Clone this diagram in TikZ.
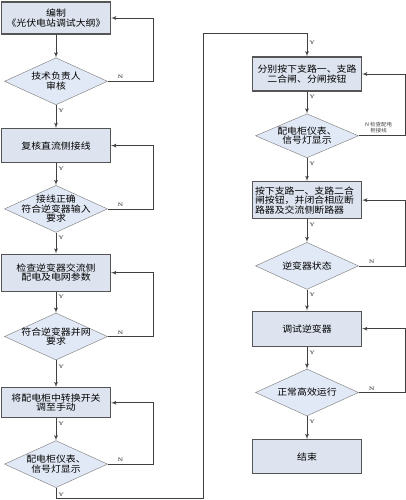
\documentclass[tikz,border=0pt]{standalone}
\usepackage{fontspec}
\newfontfamily\cjk[FakeStretch=1.1]{Noto Sans CJK SC}
\usepackage{tikz}
\usetikzlibrary{shapes,arrows,calc,positioning}
\definecolor{boxfill}{RGB}{221,228,240}
\definecolor{diafill}{RGB}{226,233,246}
\definecolor{edge}{RGB}{85,85,85}

\begin{document}
\begin{tikzpicture}[x=1pt, y=-1pt, node distance=22pt, font=\cjk\fontsize{9}{9.5}\selectfont]
        \tikzstyle{block} = [rectangle, draw=edge, line width=1.2pt, fill=boxfill,
        text width=104pt, align=center, minimum width=109pt, minimum height=34pt, inner sep=2pt]
        \tikzstyle{decision} = [diamond, draw=edge!80, fill=diafill,
        minimum width=103pt, minimum height=47pt, inner sep=0pt]
        \tikzset{line/.style={draw, thick, color=black!75, -latex'}}
        \tikzset{yn/.style={font=\fontsize{5}{6}\selectfont\bfseries, inner sep=2pt}}
        \tikzset{dtext/.style={align=center, inner sep=0pt}}

        \useasboundingbox (0,0) rectangle (406,500);

        % left column
        \node [block, minimum height=32pt] (plan) at (56,18) {编制\\《光伏电站调试大纲》};
        \node [decision, below=23pt of plan, label={[dtext]center:技术负责人\\审核}] (chk1) {};
        \node [block, below=23pt of chk1] (dccheck) {复核直流侧接线};
        \node [decision, below=of dccheck, label={[dtext]center:接线正确\\符合逆变器输入\\要求}] (chk2) {};
        \node [block, minimum height=37pt, below=21pt of chk2] (accheck) {检查逆变器交流侧\\配电及电网参数};
        \node [decision, below=21pt of accheck, label={[dtext]center:符合逆变器并网\\要求}] (chk3) {};
        \node [block, minimum height=30pt, below=27pt of chk3] (switch) {将配电柜中转换开关\\调至手动};
        \node [decision, below=of switch, label={[dtext]center:配电柜仪表、\\信号灯显示}] (chk4) {};

        % right column
        \node [block, minimum height=34pt] (branch) at (307,74) {分别按下支路一、支路\\二合闸、分闸按钮};
        \node [decision, minimum height=44pt, below=of branch, label={[dtext]center:配电柜仪表、\\信号灯显示}] (chk5) {};
        \node [block, minimum height=37pt, align=left, below=23pt of chk5] (close) {按下支路一、支路二合\\闸按钮，并闭合相应断\\路器及交流侧断路器};
        \node [decision, below=23pt of close, label={[dtext]center:逆变器状态}] (chk6) {};
        \node [block, minimum height=35pt, below=21pt of chk6] (debug) {调试逆变器};
        \node [decision, below=of debug, label={[dtext]center:正常高效运行}] (chk7) {};
        \node [block, below=23pt of chk7] (finish) {结束};

        \coordinate (leftback) at (153,0);
        \coordinate (rightback) at (405,0);
        \coordinate (bottomturn) at (203,498);
        \coordinate (topturn) at (203,33);

        \path [line] (plan) -- (chk1);
        \path [line] (chk1) -- node [yn, near start, right] {Y} (dccheck);
        \path [line] (dccheck) -- node [yn, near start, right] {Y} (chk2);
        \path [line] (chk2) -- node [yn, near start, right] {Y} (accheck);
        \path [line] (accheck) -- node [yn, near start, right] {Y} (chk3);
        \path [line] (chk3) -- node [yn, near start, right] {Y} (switch);
        \path [line] (switch) -- node [yn, near start, right] {Y} (chk4);

        \path [line] (chk1.east) -- node [yn, above, pos=0.28] {N} (chk1.east -| leftback) |- (plan.east);
        \path [line] (chk2.east) -- node [yn, above, pos=0.28] {N} (chk2.east -| leftback) |- (dccheck.east);
        \path [line] (chk3.east) -- node [yn, above, pos=0.28] {N} (chk3.east -| leftback) |- (accheck.east);
        \path [line] (chk4.east) -- node [yn, above, pos=0.28] {N} (chk4.east -| leftback) |- (switch.east);

        \path [line] (chk4.south) |- node [yn, pos=0.35, right] {Y} (bottomturn) -- (topturn)
            -| node [yn, pos=0.7, right] {Y} (branch.north);

        \path [line] (branch) -- node [yn, near start, right] {Y} (chk5);
        \path [line] (chk5) -- node [yn, near start, right] {Y} (close);
        \path [line] (close) -- node [yn, near start, right] {Y} (chk6);
        \path [line] (chk6) -- node [yn, near start, right] {Y} (debug);
        \path [line] (debug) -- node [yn, near start, right] {Y} (chk7);
        \path [line] (chk7) -- node [yn, near start, right] {Y} (finish);

        \path [line] (chk5.east) -- node [yn, above, pos=0.43, align=center, font=\cjk\fontsize{5}{6}\selectfont] {N 检查配电\\柜接线} (chk5.east -| rightback) |- (branch.east);
        \path [line] (chk6.east) -- node [yn, above, pos=0.28] {N} (chk6.east -| rightback) |- (close.east);
        \path [line] (chk7.east) -- node [yn, above, pos=0.28] {N} (chk7.east -| rightback) |- (debug.east);

    \end{tikzpicture}
\end{document}
